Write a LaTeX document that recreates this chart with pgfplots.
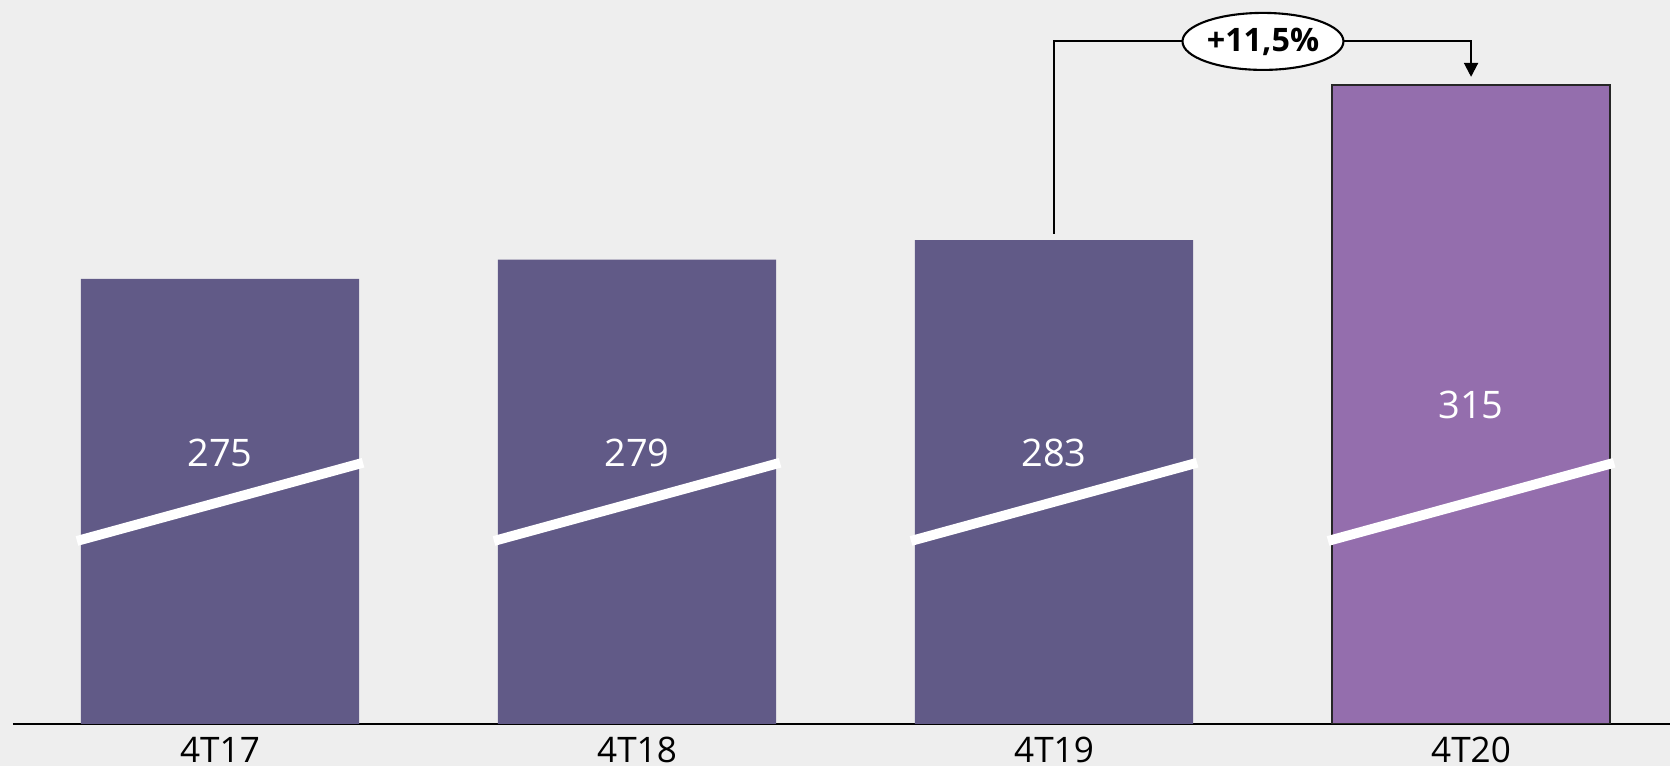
\documentclass[border=0pt]{standalone}
\usepackage{fontspec}
\setmainfont{Open Sans}
\usepackage{pgfplots}
\pgfplotsset{compat=1.18}
\usetikzlibrary{shapes.geometric,arrows.meta}
\definecolor{bg}{HTML}{EEEEEE}
\definecolor{barA}{HTML}{615A87}
\definecolor{barB}{HTML}{946EAD}
\begin{document}
\begin{tikzpicture}
\fill[bg] (0,0) rectangle (16.7,7.66);
\useasboundingbox (0,0) rectangle (16.7,7.66);
\begin{axis}[
  at={(0.13cm,0.42cm)}, anchor=south west,
  width=16.57cm, height=7.24cm, scale only axis,
  xmin=-0.4964, xmax=3.477,
  ymin=183.25, ymax=332.5,
  axis x line=bottom, axis y line=none,
  x axis line style={-, line width=0.6pt},
  xtick={0,1,2,3}, xticklabels={4T17,4T18,4T19,4T20},
  major tick length=0pt,
  ytick=\empty,
  xticklabel style={font=\fontsize{10}{12}\selectfont, inner sep=0pt, yshift=-3.6pt},
]
% bars
\addplot[ybar, bar shift=0pt, bar width=0.667, fill=barA, draw=none]
  coordinates {(0,275) (1,279) (2,283)};
\addplot[ybar, bar shift=0pt, bar width=0.667, fill=barB, draw=black!85, line width=0.5pt]
  coordinates {(3,315)};
% axis break marks
\addplot[white, line width=2.8pt] coordinates {(-0.343,220.98) (0.343,237.1)};
\addplot[white, line width=2.8pt] coordinates {(0.657,220.98) (1.343,237.1)};
\addplot[white, line width=2.8pt] coordinates {(1.657,220.98) (2.343,237.1)};
\addplot[white, line width=2.8pt] coordinates {(2.657,220.98) (3.343,237.1)};
% value labels
\addplot[draw=none, nodes near coords={\pgfplotspointmeta}, point meta=explicit symbolic,
  every node near coord/.style={anchor=center, text=white, font=\fontsize{10.8}{13}\selectfont}]
  coordinates {(0,239.1)[275] (1,239.1)[279] (2,239.1)[283] (3,249)[315]};
% growth annotation
\draw[line width=0.6pt, -{Triangle[length=1.4mm,width=1.4mm]}]
  (axis cs:2,284.3) -- (axis cs:2,323.96) -- (axis cs:3,323.96) -- (axis cs:3,316.65);
\node[ellipse, draw, fill=white, line width=0.6pt, minimum width=1.61cm, minimum height=0.57cm,
  inner sep=0pt, font=\bfseries\fontsize{9.2}{11}\selectfont] at (axis cs:2.501,323.96) {+11,5\%};
\end{axis}
\end{tikzpicture}
\end{document}
